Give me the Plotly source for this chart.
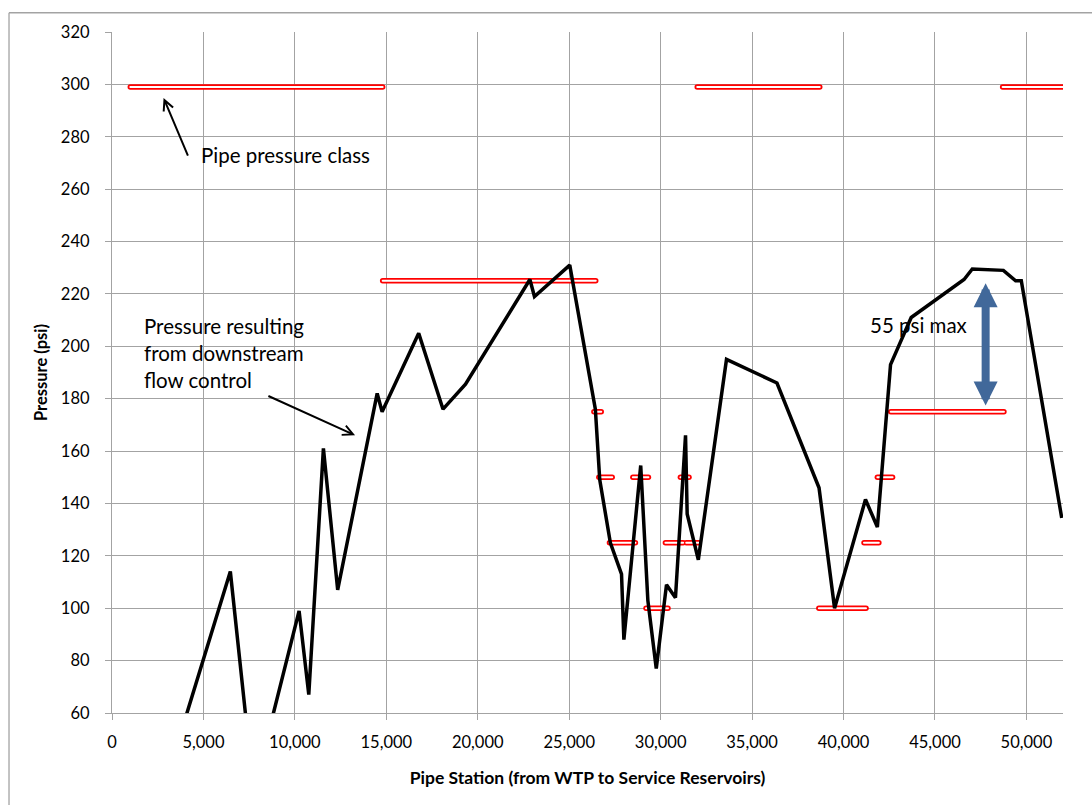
import plotly.graph_objects as go

# Hydraulic grade along the transmission main (pressure in psi)
station = [3000, 6470, 7750, 10230, 10760, 11560, 12340, 14500, 14770, 16770,
           18100, 19330, 22850, 23100, 25030, 26430, 26670, 27250, 27860, 27990,
           28910, 29300, 29760, 30320, 30810, 31360, 31450, 32060, 33600, 36360,
           38660, 39510, 41200, 41850, 42570, 43700, 46590, 47040, 48740, 49410,
           49720, 51930]
pressure = [35, 114, 30, 99, 67, 161, 107, 182, 175, 205,
            176, 185.5, 225.5, 219, 231, 176, 149, 125, 113, 88,
            154.5, 103, 77, 109, 104, 166, 136, 118.5, 195, 186,
            146, 100, 141.5, 131, 193, 211, 225.5, 229.5, 229, 225,
            225, 134.5]

# Pipe pressure class segments: start station, end station, class (psi)
class_start = [1000, 14800, 32000, 48700, 26350, 26620, 28480, 31080, 27200,
               30260, 31400, 29200, 38650, 42580, 41120, 41850]
class_end = [14800, 26450, 38700, 52000, 26750, 27350, 29330, 31550, 28620,
             31230, 32100, 30400, 41230, 48770, 41930, 42680]
class_psi = [299, 225, 299, 299, 175, 150, 150, 150, 125,
             125, 125, 100, 100, 175, 125, 150]

x_ticks = list(range(0, 50001, 5000))
y_ticks = list(range(60, 321, 20))

seg_x, seg_y = [], []
for s, e, p in zip(class_start, class_end, class_psi):
    seg_x += [s, e, None]
    seg_y += [p, p, None]

GRID = "#A3A3A3"
FONT = "Lato, 'Open Sans', sans-serif"
NOTE = dict(size=20.5)

fig = go.Figure()
fig.add_trace(go.Scatter(x=seg_x, y=seg_y, mode="lines",
                         line=dict(color="#FF0000", width=5.5),
                         hoverinfo="skip", showlegend=False))
fig.add_trace(go.Scatter(x=seg_x, y=seg_y, mode="lines",
                         line=dict(color="#FFFFFF", width=2),
                         hoverinfo="skip", showlegend=False))
fig.add_trace(go.Scatter(x=station, y=pressure, mode="lines",
                         line=dict(color="#000000", width=3.5),
                         showlegend=False))

fig.update_layout(
    width=1092, height=805,
    margin=dict(l=112, r=29, t=32, b=92),
    paper_bgcolor="white", plot_bgcolor="white",
    font=dict(family=FONT, color="#000000", size=16),
    xaxis=dict(range=[0, 52000], tickvals=x_ticks, tickformat=",d",
               showgrid=True, gridcolor=GRID, gridwidth=1.3,
               showline=True, linecolor=GRID, linewidth=1.3,
               ticks="outside", ticklen=6, tickcolor=GRID, tickwidth=1.3,
               ticklabelstandoff=8, zeroline=False,
               tickfont=dict(size=16.5),
               title=dict(text="<b>Pipe Station (from WTP to Service Reservoirs)</b>",
                          font=dict(size=17.5), standoff=20)),
    yaxis=dict(range=[60, 320], tickvals=y_ticks,
               showgrid=True, gridcolor=GRID, gridwidth=1.3,
               showline=True, linecolor=GRID, linewidth=1.3,
               ticks="outside", ticklen=6, tickcolor=GRID, tickwidth=1.3,
               ticklabelstandoff=12, zeroline=False,
               tickfont=dict(size=16.5),
               title=dict(text="<b>Pressure (psi)</b>",
                          font=dict(size=16.5), standoff=9)),
)

# Outer chart frame
fig.add_shape(type="line", xref="paper", yref="paper",
              x0=-0.1083, x1=-0.1083, y0=-0.3, y1=1.0283,
              line=dict(color=GRID, width=1.3))
fig.add_shape(type="line", xref="paper", yref="paper",
              x0=-0.1083, x1=1.2, y0=1.0283, y1=1.0283,
              line=dict(color=GRID, width=1.3))

# Callouts
fig.add_annotation(x=4770, y=273.1, text="Pipe pressure class", showarrow=False,
                   xanchor="left", yanchor="middle", font=NOTE)
fig.add_annotation(x=2820, y=294.8, ax=4185, ay=272.2, axref="x", ayref="y",
                   text="", showarrow=True, arrowhead=5, arrowsize=1,
                   arrowwidth=2, arrowcolor="#000000")

for txt, yv in [("Pressure resulting", 207.7), ("from downstream", 197.3),
                ("flow control", 187.1)]:
    fig.add_annotation(x=1640, y=yv, text=txt, showarrow=False,
                       xanchor="left", yanchor="middle", font=NOTE)
fig.add_annotation(x=13290, y=166.0, ax=8470, ay=181.3, axref="x", ayref="y",
                   text="", showarrow=True, arrowhead=5, arrowsize=1,
                   arrowwidth=2, arrowcolor="#000000")

fig.add_annotation(x=41330, y=208.1, text="55 psi max", showarrow=False,
                   xanchor="left", yanchor="middle", font=NOTE)
fig.add_annotation(x=47770, y=224.1, ax=47770, ay=176.8, axref="x", ayref="y",
                   text="", showarrow=True, arrowhead=2, arrowside="end+start",
                   arrowsize=0.6, arrowwidth=8, arrowcolor="#41689A")

# Rounded ends give the class segments their capsule outline
post = """
var gd = document.getElementById('{plot_id}');
gd.querySelectorAll('.scatterlayer .trace').forEach(function(t, i) {
  if (i < 2) {
    t.querySelectorAll('path.js-line').forEach(function(p) {
      p.style.strokeLinecap = 'round';
    });
  }
});
"""

fig.write_html("out.html", post_script=post)
